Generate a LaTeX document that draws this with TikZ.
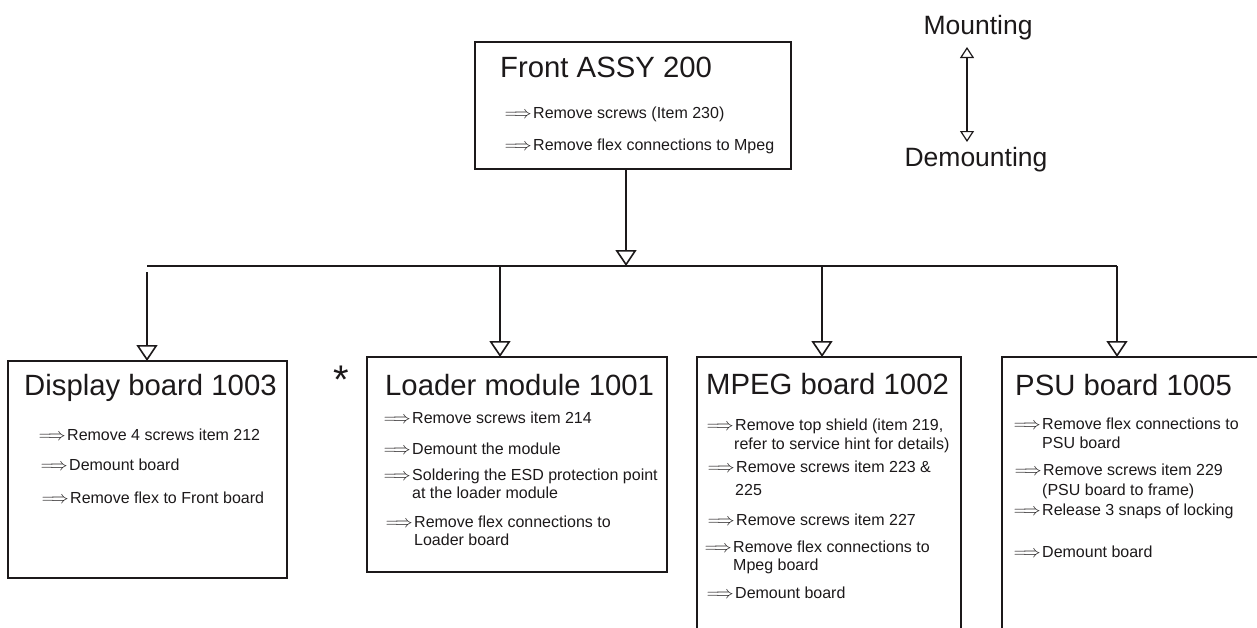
\documentclass[tikz,border=0pt]{standalone}
\usepackage{fontspec}
\setmainfont{Liberation Sans}
\usetikzlibrary{arrows.meta}
\definecolor{ink}{RGB}{28,25,26}
\tikzset{
  itemtext/.style={anchor=base west, inner sep=0pt, font=\fontsize{16}{18}\selectfont, text=ink},
  itemarrow/.style={anchor=base east, inner sep=0pt, font=\fontsize{18}{18}\selectfont, text=ink},
  boxtitle/.style={anchor=base west, inner sep=0pt, font=\fontsize{29.3}{32}\selectfont, text=ink},
  legendtext/.style={anchor=base, inner sep=0pt, font=\fontsize{26.5}{30}\selectfont, text=ink},
  boardbox/.style={draw=ink, line width=1.6pt, anchor=north west, inner sep=0pt, outer sep=0pt},
  conn/.style={draw=ink, line width=1.6pt},
  tri/.style={conn, -{Triangle[open, length=16pt, width=21pt]}},
  smalltri/.style={draw=ink, line width=1.2pt, {Triangle[open, length=11pt, width=14pt]}-{Triangle[open, length=11pt, width=14pt]}},
}
\newcommand\stepitem[4]{%
  \node[itemtext] (#1) at (#2,#3) {#4};
  \node[itemarrow] (#1a) at ([xshift=-1.2pt]#1.base west) {$\Longrightarrow$};}
\newcommand\stepcont[4]{\node[itemtext] (#1) at (#2,#3) {#4};}
\begin{document}
\begin{tikzpicture}[x=1pt,y=-1pt]
\useasboundingbox (0,0) rectangle (1257,627);
\clip (0,0) rectangle (1257,627);

% boxes
\node[boardbox, minimum width=316pt, minimum height=127pt] (front) at (475,42) {};
\node[boardbox, minimum width=279pt, minimum height=217pt] (disp) at (8,361) {};
\node[boardbox, minimum width=300pt, minimum height=215pt] (load) at (367,357) {};
\node[boardbox, minimum width=264pt, minimum height=300pt] (mpeg) at (697,357) {};
\node[boardbox, minimum width=270pt, minimum height=300pt] (psu) at (1002,357) {};

% front
\node[boxtitle] (ftitle) at (500,77) {Front ASSY 200};
\stepitem{f1}{533}{118}{Remove screws (Item 230)}
\stepitem{f2}{533}{150}{Remove flex connections to Mpeg}

% display
\node[boxtitle] (dtitle) at (24,395) {Display board 1003};
\stepitem{d1}{67}{440}{Remove 4 screws item 212}
\stepitem{d2}{69}{470}{Demount board}
\stepitem{d3}{70}{503}{Remove flex to Front board}

% star
\node[anchor=base, inner sep=0pt, font=\fontsize{40}{42}\selectfont, text=ink] (star) at (341,393) {*};

% loader
\node[boxtitle] (ltitle) at (385,395) {Loader module 1001};
\stepitem{l1}{412}{423}{Remove screws item 214}
\stepitem{l2}{412}{454}{Demount the module}
\stepitem{l3}{412}{480}{Soldering the ESD protection point}
\stepcont{l3b}{412}{498}{at the loader module}
\stepitem{l4}{414}{527}{Remove flex connections to}
\stepcont{l4b}{414}{545}{Loader board}

% mpeg
\node[boxtitle] (mtitle) at (706,394) {MPEG board 1002};
\stepitem{m1}{735}{430}{Remove top shield (item 219,}
\stepcont{m1b}{734}{449}{refer to service hint for details)}
\stepitem{m2}{736}{472}{Remove screws item 223 \&}
\stepcont{m2b}{735}{495}{225}
\stepitem{m3}{736}{525}{Remove screws item 227}
\stepitem{m4}{733}{552}{Remove flex connections to}
\stepcont{m4b}{733}{570}{Mpeg board}
\stepitem{m5}{735}{598}{Demount board}

% psu
\node[boxtitle] (ptitle) at (1015,395) {PSU board 1005};
\stepitem{p1}{1042}{429}{Remove flex connections to}
\stepcont{p1b}{1042}{448}{PSU board}
\stepitem{p2}{1043}{475}{Remove screws item 229}
\stepcont{p2b}{1042}{495}{(PSU board to frame)}
\stepitem{p3}{1042}{515}{Release 3 snaps of locking}
\stepitem{p4}{1042}{557}{Demount board}

% connectors
\coordinate (bus) at (626,266);
\coordinate (bd) at (147,266);
\coordinate (bdgap) at (147,272);
\coordinate (bl) at (500,266);
\coordinate (bm) at (822,266);
\coordinate (bp) at (1117,266);
\draw[tri] (front.south -| bus) -- (bus);
\draw[conn] (bd) -- (bp);
\draw[tri] (bdgap) -- (bdgap |- disp.north);
\draw[tri] (bl) -- (bl |- load.north);
\draw[tri] (bm) -- (bm |- mpeg.north);
\draw[tri] (bp) -- (bp |- psu.north);

% legend
\node[legendtext] (mount) at (978,34) {Mounting};
\node[legendtext] (demount) at (976,166) {Demounting};
\coordinate (mtip) at (967,47);
\coordinate (dtip) at (967,142);
\draw[smalltri] (mtip) -- (dtip);
\end{tikzpicture}
\end{document}
